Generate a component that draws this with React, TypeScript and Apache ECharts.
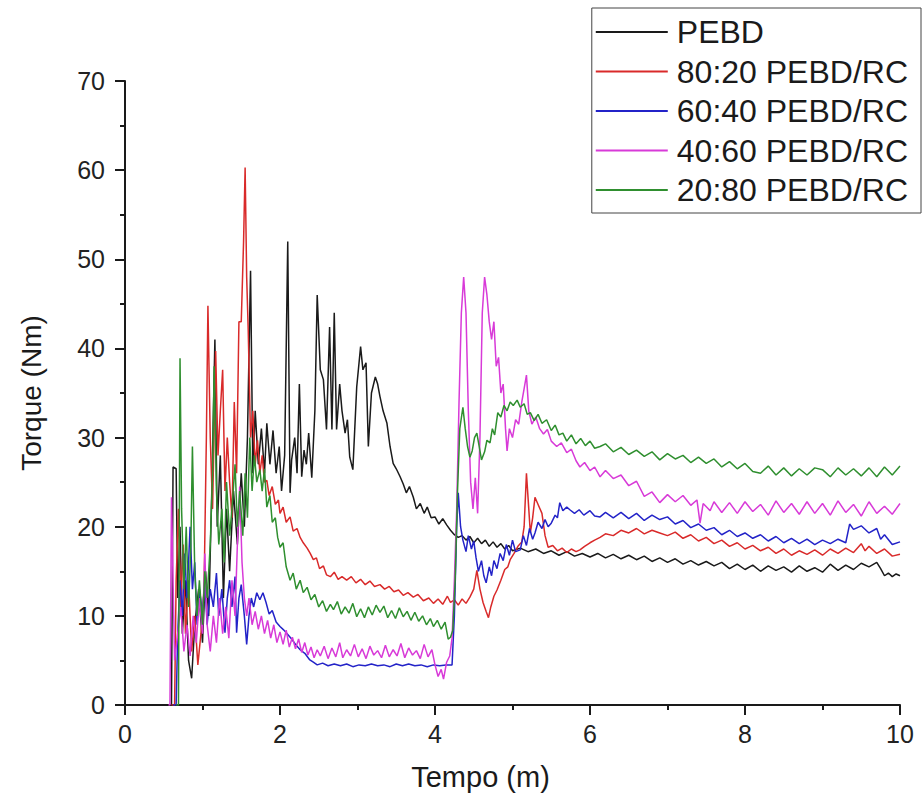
import React, { useEffect, useRef } from "react";
import * as echarts from "echarts";

const seriesNames = ["PEBD", "80:20 PEBD/RC", "60:40 PEBD/RC", "40:60 PEBD/RC", "20:80 PEBD/RC"];
const seriesColors = ["#1a1a1a", "#d92a2a", "#2323c8", "#d83ad8", "#2f8f2f"];

const xTicks = [0, 2, 4, 6, 8, 10];
const yTicks = [0, 10, 20, 30, 40, 50, 60, 70];

const pebd: number[][] = [
  [0.55,0],[0.6,0],[0.62,26.7],[0.66,26.5],[0.68,12],[0.71,20],[0.74,8],[0.78,14],[0.82,5],[0.86,3],[0.9,9],[0.95,13],[1.0,7],[1.04,15],[1.08,10],[1.12,24],[1.16,41],[1.19,20],[1.23,28],[1.27,12],[1.31,22],[1.35,15],[1.4,24],[1.45,18],[1.5,26],[1.54,20],[1.58,30],[1.62,48.7],[1.65,26],[1.68,33],[1.72,27],[1.76,31],[1.8,26],[1.83,31.6],[1.87,27],[1.91,30.8],[1.95,26],[1.99,29],[2.02,24],[2.06,28],[2.1,52],[2.13,23.8],[2.15,27.5],[2.19,30],[2.22,26],[2.25,36],[2.28,25.6],[2.31,28.6],[2.34,27],[2.37,30.5],[2.41,25.5],[2.45,33],[2.48,46],[2.52,37.6],[2.56,36.5],[2.6,30.9],[2.64,42.4],[2.67,30.9],[2.7,44],[2.73,30.9],[2.77,36],[2.8,33],[2.84,30.5],[2.87,32],[2.9,27.8],[2.94,26.4],[2.99,35.7],[3.04,40.2],[3.07,37.6],[3.11,38.4],[3.14,29],[3.18,35],[3.23,36.8],[3.26,36],[3.29,34.6],[3.33,33],[3.38,31.6],[3.42,29],[3.46,27.1],[3.5,26.5],[3.55,25.6],[3.59,24.8],[3.63,23.8],[3.67,24.5],[3.72,23.3],[3.76,22],[3.81,22.6],[3.86,21.5],[3.9,22.2],[3.95,21],[4.0,21.1],[4.05,20.3],[4.1,20.9],[4.15,20.2],[4.2,19.6],[4.25,19.1],[4.3,18.8],[4.35,19],[4.4,18.5],[4.45,18.9],[4.5,18.2],[4.55,18.7],[4.6,18.1],[4.65,18.5],[4.7,17.8],[4.75,18.3],[4.8,17.7],[4.85,18.1],[4.9,17.5],[4.95,17.9],[5.0,17.3],[5.1,17.6],[5.2,17.2],[5.3,17.5],[5.4,17.0],[5.5,17.3],[5.6,16.8],[5.7,17.2],[5.8,16.7],[5.9,17.0],[6.0,16.6],[6.1,17.0],[6.2,16.5],[6.3,16.9],[6.4,16.4],[6.5,16.8],[6.6,16.3],[6.7,16.7],[6.8,16.1],[6.9,16.5],[7.0,16.0],[7.1,16.4],[7.2,15.8],[7.3,16.2],[7.4,15.7],[7.5,16.1],[7.6,15.6],[7.7,16.0],[7.8,15.3],[7.9,15.8],[8.0,15.2],[8.1,15.7],[8.2,15.0],[8.3,15.6],[8.4,15.1],[8.5,15.5],[8.6,14.9],[8.7,15.6],[8.8,15.0],[8.9,15.4],[9.0,14.9],[9.1,15.8],[9.2,15.1],[9.3,15.7],[9.4,15.2],[9.5,15.9],[9.6,15.5],[9.7,16.0],[9.75,15.3],[9.8,14.5],[9.85,14.8],[9.9,14.4],[9.95,14.7],[10.0,14.5]
];

const pebdRc8020: number[][] = [
  [0.6,0],[0.64,0],[0.66,14],[0.69,22],[0.72,11],[0.75,18],[0.78,8],[0.82,14],[0.86,6],[0.9,10],[0.94,4.5],[0.98,8],[1.02,13],[1.05,30],[1.07,44.8],[1.1,30],[1.13,22],[1.17,39.7],[1.2,28],[1.23,33],[1.26,37.6],[1.29,24],[1.32,30],[1.35,25],[1.38,21],[1.41,34],[1.44,26],[1.47,43],[1.5,43],[1.53,52],[1.55,60.3],[1.57,48],[1.59,42],[1.62,30],[1.65,33],[1.68,27],[1.71,29.7],[1.74,26],[1.77,28],[1.8,25],[1.83,25.2],[1.86,23.5],[1.9,24.5],[1.94,22.5],[1.98,23],[2.0,21.5],[2.04,22.2],[2.08,20.5],[2.13,21.1],[2.17,19.5],[2.22,19.8],[2.26,18.8],[2.3,18.2],[2.35,17.6],[2.39,17],[2.43,16.3],[2.47,16.5],[2.51,15.3],[2.56,15.6],[2.6,14.6],[2.65,14.4],[2.7,14.9],[2.75,14.1],[2.8,14.4],[2.86,14],[2.92,14.4],[2.98,13.7],[3.04,14.1],[3.1,13.5],[3.16,13.9],[3.22,13.3],[3.29,13.5],[3.35,13],[3.41,13.3],[3.47,12.7],[3.53,12.9],[3.59,12.3],[3.65,12.6],[3.72,12.1],[3.78,12.4],[3.85,11.7],[3.92,12],[3.98,11.4],[4.04,11.9],[4.1,11.3],[4.16,12.2],[4.2,11.5],[4.25,11.8],[4.3,11.2],[4.35,11.9],[4.4,11.4],[4.45,12.1],[4.5,13],[4.54,15.1],[4.58,13],[4.62,11.5],[4.66,10.5],[4.69,9.8],[4.72,11],[4.76,12.2],[4.8,12.9],[4.85,14],[4.9,15.2],[4.94,15.5],[4.97,16.3],[5.02,17],[5.07,17.8],[5.12,18.3],[5.15,20],[5.18,26],[5.21,22],[5.23,19.3],[5.26,21],[5.29,23.3],[5.33,22.5],[5.38,21.5],[5.42,19],[5.46,17.7],[5.52,17.9],[5.58,17.3],[5.64,17.6],[5.7,17.1],[5.76,17.5],[5.82,17.2],[5.87,17.4],[5.93,17.8],[6.0,18.2],[6.06,18.5],[6.13,18.8],[6.2,19.2],[6.3,19.0],[6.4,19.6],[6.5,19.3],[6.6,19.8],[6.7,19.2],[6.8,19.6],[6.9,19.3],[7.0,19.0],[7.1,19.4],[7.2,18.7],[7.3,19.1],[7.4,18.4],[7.5,18.8],[7.6,18.1],[7.7,18.5],[7.8,17.8],[7.9,18.2],[8.0,17.5],[8.1,17.9],[8.2,17.3],[8.3,17.7],[8.4,17.0],[8.5,17.5],[8.6,16.8],[8.7,17.3],[8.8,16.9],[8.9,17.4],[9.0,16.8],[9.1,17.5],[9.2,17.0],[9.3,17.6],[9.4,17.1],[9.5,18.1],[9.55,17.3],[9.6,17.8],[9.7,17.0],[9.8,17.5],[9.9,16.7],[10.0,16.9]
];

const pebdRc6040: number[][] = [
  [0.62,0],[0.66,0],[0.68,8],[0.71,14],[0.74,10],[0.77,17],[0.8,12],[0.84,20],[0.87,13],[0.9,16],[0.93,9],[0.96,13],[1.0,10.3],[1.03,14],[1.06,9],[1.1,13],[1.14,11],[1.18,14.8],[1.21,10],[1.25,13],[1.29,8.1],[1.32,12],[1.35,14],[1.38,11],[1.42,14.4],[1.44,8.1],[1.47,12],[1.5,13.5],[1.54,10],[1.57,6.8],[1.6,10],[1.63,12],[1.66,11],[1.7,12.6],[1.74,11.8],[1.78,12.6],[1.82,11.5],[1.86,10.2],[1.9,10.6],[1.95,9.3],[2.0,8.8],[2.05,8.4],[2.1,7.9],[2.15,7.4],[2.2,6.8],[2.26,6.2],[2.32,5.8],[2.38,5.1],[2.43,4.8],[2.48,4.5],[2.55,4.7],[2.62,4.4],[2.7,4.6],[2.78,4.4],[2.86,4.6],[2.94,4.3],[3.02,4.5],[3.1,4.4],[3.18,4.6],[3.26,4.4],[3.34,4.5],[3.42,4.3],[3.5,4.6],[3.58,4.4],[3.66,4.6],[3.74,4.4],[3.82,4.5],[3.9,4.3],[3.98,4.5],[4.06,4.4],[4.14,4.5],[4.22,4.5],[4.25,10],[4.28,20],[4.3,23.8],[4.33,20],[4.36,18.5],[4.4,17.2],[4.43,19],[4.47,17.5],[4.5,18.4],[4.53,16.5],[4.56,15],[4.6,16.2],[4.63,14.5],[4.66,13.7],[4.7,15.5],[4.73,14.5],[4.76,16.2],[4.8,15.3],[4.84,17],[4.88,16.2],[4.92,18],[4.96,16.8],[5.0,18.5],[5.04,17.2],[5.1,17.4],[5.14,19],[5.18,17.9],[5.22,19.8],[5.26,18.6],[5.29,19.3],[5.33,20.5],[5.38,19.8],[5.42,20.8],[5.46,20],[5.5,20.4],[5.55,21.3],[5.58,21],[5.61,22.7],[5.65,21.8],[5.7,22.2],[5.74,21.9],[5.8,21.5],[5.86,21.9],[5.92,21.3],[6.0,21.8],[6.06,21.2],[6.13,21.1],[6.2,21.6],[6.3,21.0],[6.4,21.6],[6.5,20.9],[6.6,21.5],[6.7,20.7],[6.8,21.3],[6.9,20.8],[7.0,21.1],[7.1,20.3],[7.2,20.7],[7.3,19.9],[7.4,20.3],[7.5,19.6],[7.6,19.9],[7.7,19.1],[7.8,19.6],[7.9,18.9],[8.0,19.3],[8.1,18.7],[8.2,19.1],[8.3,18.4],[8.4,18.9],[8.5,18.2],[8.6,18.7],[8.7,18.1],[8.8,18.6],[8.9,18.0],[9.0,18.5],[9.1,18.1],[9.2,18.6],[9.3,18.2],[9.35,20.3],[9.4,19.7],[9.5,20.1],[9.6,19.3],[9.7,19.8],[9.75,18.6],[9.8,19.1],[9.9,18.0],[10.0,18.3]
];

const pebdRc4060: number[][] = [
  [0.56,0],[0.58,0],[0.6,23.3],[0.62,14],[0.64,5],[0.68,8],[0.72,11],[0.76,6],[0.8,9],[0.84,5.5],[0.88,10],[0.92,7],[0.96,12],[1.0,8],[1.03,17],[1.06,9],[1.1,6],[1.14,10],[1.18,7],[1.22,12],[1.26,8],[1.3,11],[1.34,7.5],[1.38,14],[1.42,10],[1.45,18],[1.48,24.5],[1.51,16],[1.54,12],[1.57,10],[1.6,12],[1.64,9],[1.68,10.5],[1.72,8.5],[1.76,10],[1.8,8],[1.84,9.5],[1.88,7.5],[1.92,9],[1.96,7],[2.0,8.2],[2.04,6.8],[2.08,8.4],[2.12,6.5],[2.16,7.6],[2.2,6.3],[2.24,7.4],[2.28,5.9],[2.32,7],[2.36,5.6],[2.4,6.5],[2.44,5.3],[2.48,6.2],[2.52,5.5],[2.57,6.6],[2.62,5.2],[2.67,6.4],[2.72,5.4],[2.77,7],[2.81,5.3],[2.86,6.2],[2.91,5.5],[2.96,6.8],[3.01,5.4],[3.06,6.3],[3.11,5.2],[3.16,6.6],[3.21,5.6],[3.26,6.1],[3.31,5.3],[3.36,6.7],[3.41,5.4],[3.46,6.2],[3.51,5.5],[3.56,6.9],[3.61,5.3],[3.66,6.4],[3.71,5.6],[3.76,6.1],[3.81,5.2],[3.86,6.8],[3.91,5.4],[3.96,6.2],[4.0,4.5],[4.04,3.2],[4.08,4],[4.11,2.9],[4.15,4.8],[4.19,5.5],[4.22,7.5],[4.25,14],[4.28,22],[4.31,34],[4.34,44],[4.37,48],[4.4,44],[4.43,33],[4.46,25],[4.49,22],[4.52,25.5],[4.55,21.5],[4.58,30],[4.61,44],[4.64,48],[4.67,46],[4.7,43],[4.73,41],[4.76,43],[4.79,38],[4.82,39],[4.85,35],[4.88,36],[4.91,31],[4.93,28.5],[4.96,31],[5.0,30],[5.04,32],[5.08,31.5],[5.12,34],[5.15,35.5],[5.18,37],[5.21,33],[5.25,31.5],[5.3,32.3],[5.35,31],[5.4,30.4],[5.45,30.9],[5.5,29.6],[5.57,29],[5.63,29.4],[5.7,28.3],[5.76,28.7],[5.82,27.4],[5.87,26.7],[5.93,27.2],[6.0,26.3],[6.06,26.7],[6.13,25.6],[6.2,26.3],[6.3,25.4],[6.4,25.8],[6.5,24.6],[6.6,25.1],[6.7,23.4],[6.8,23.9],[6.9,22.7],[7.0,23.6],[7.1,22.8],[7.2,23.5],[7.3,22.4],[7.38,23],[7.42,20.4],[7.46,22.6],[7.55,21.8],[7.6,22.8],[7.7,21.6],[7.8,22.7],[7.9,21.5],[8.0,22.8],[8.1,21.7],[8.2,22.5],[8.3,21.3],[8.4,22.9],[8.5,21.6],[8.6,22.6],[8.7,21.4],[8.8,22.8],[8.9,21.5],[9.0,22.6],[9.1,21.3],[9.2,22.9],[9.3,21.6],[9.4,22.5],[9.5,21.2],[9.6,22.8],[9.7,21.5],[9.8,22.3],[9.9,21.4],[10.0,22.6]
];

const pebdRc2080: number[][] = [
  [0.66,0],[0.69,0],[0.71,38.9],[0.73,22],[0.76,13],[0.79,20],[0.82,11],[0.85,18],[0.87,29],[0.9,15],[0.93,10],[0.96,14],[1.0,9],[1.03,15],[1.06,12],[1.1,18],[1.13,26],[1.15,38],[1.18,24],[1.21,18],[1.25,22],[1.28,16],[1.31,25],[1.35,19],[1.38,22],[1.42,27],[1.45,20],[1.48,24],[1.52,19],[1.55,26],[1.58,21],[1.61,30],[1.64,24],[1.67,28],[1.7,25],[1.74,26.4],[1.77,24],[1.8,26.5],[1.83,22.2],[1.87,23.5],[1.9,20.5],[1.94,21],[1.97,18.8],[2.0,17.7],[2.04,18.2],[2.08,15.5],[2.13,14],[2.17,14.8],[2.21,13],[2.26,14],[2.3,12.6],[2.35,13.2],[2.4,11.8],[2.45,12.4],[2.5,11],[2.55,11.7],[2.6,10.5],[2.65,11.3],[2.69,10.7],[2.74,11.6],[2.79,10.2],[2.84,11],[2.89,10.3],[2.94,11.4],[2.99,9.9],[3.04,10.8],[3.09,9.8],[3.14,11],[3.19,10.1],[3.24,11.2],[3.29,10.4],[3.34,11.1],[3.39,9.8],[3.44,10.6],[3.49,9.7],[3.54,10.9],[3.59,9.9],[3.64,10.5],[3.69,9.5],[3.74,10.4],[3.79,9.4],[3.84,10],[3.89,9],[3.94,9.7],[3.98,8.8],[4.03,9.5],[4.08,8.5],[4.13,9.3],[4.17,7.4],[4.2,7.6],[4.23,8.4],[4.26,14],[4.29,23.8],[4.32,31],[4.36,33.4],[4.39,31],[4.42,29],[4.45,27.8],[4.48,28.5],[4.51,30],[4.54,30.5],[4.57,29],[4.6,27.5],[4.64,28.4],[4.67,29.7],[4.71,29.4],[4.74,31],[4.77,30.3],[4.81,32.8],[4.85,32.3],[4.89,33.6],[4.93,33],[4.97,34],[5.01,33.6],[5.06,34.2],[5.1,33.4],[5.15,33.8],[5.19,32.6],[5.23,32.8],[5.28,31.9],[5.33,32.6],[5.38,31.6],[5.44,32],[5.5,30.8],[5.55,31.4],[5.6,30.3],[5.65,30.5],[5.7,29.6],[5.76,30.3],[5.82,29.3],[5.88,29.9],[5.94,29.1],[6.0,29.6],[6.06,28.8],[6.13,29],[6.2,29.3],[6.3,28.4],[6.4,28.9],[6.5,28.1],[6.6,28.6],[6.7,27.9],[6.8,28.4],[6.9,27.5],[7.0,28.2],[7.1,27.6],[7.2,28],[7.3,27.2],[7.4,27.8],[7.5,27.1],[7.6,27.6],[7.7,26.7],[7.8,27.3],[7.9,26.5],[8.0,27.1],[8.1,26.2],[8.2,26],[8.3,26.8],[8.4,25.8],[8.5,26.6],[8.6,25.7],[8.7,26.5],[8.8,25.8],[8.9,26.6],[9.0,26.4],[9.1,25.6],[9.2,26.6],[9.3,25.8],[9.4,26.5],[9.5,25.7],[9.6,26.6],[9.7,25.6],[9.8,26.7],[9.9,25.8],[10.0,26.8]
];

const allData = [pebd, pebdRc8020, pebdRc6040, pebdRc4060, pebdRc2080];

const FONT = "'Liberation Sans', Arial, sans-serif";

export default function App() {
  const ref = useRef<HTMLDivElement>(null);
  useEffect(() => {
    if (!ref.current) return;
    const chart = echarts.init(ref.current, undefined, { renderer: "svg" });
    const axisLine = { show: true, onZero: false, lineStyle: { color: "#1a1a1a", width: 2 } };
    chart.setOption({
      animation: false,
      backgroundColor: "#ffffff",
      textStyle: { fontFamily: FONT },
      grid: { left: 125, right: 22, top: 81, bottom: 105, containLabel: false },
      legend: {
        data: seriesNames,
        orient: "vertical",
        right: 1,
        top: 8,
        icon: "rect",
        itemWidth: 72,
        itemHeight: 2,
        itemGap: 7.5,
        padding: [8, 13, 7, 4],
        borderColor: "#444",
        borderWidth: 1,
        backgroundColor: "#ffffff",
        textStyle: { fontSize: 32, color: "#1a1a1a", fontFamily: FONT, padding: [0, 0, 0, 4] },
      },
      xAxis: {
        type: "value",
        min: xTicks[0],
        max: xTicks[xTicks.length - 1],
        interval: 2,
        name: "Tempo (m)",
        nameLocation: "middle",
        nameGap: 57,
        nameTextStyle: { fontSize: 29, color: "#1a1a1a", fontFamily: FONT, padding: [0, 64, 0, 0] },
        axisLine,
        axisTick: { show: true, inside: false, length: 10, lineStyle: { color: "#1a1a1a", width: 2 } },
        minorTick: { show: true, splitNumber: 2, length: 5, lineStyle: { color: "#1a1a1a", width: 2 } },
        splitLine: { show: false },
        minorSplitLine: { show: false },
        axisLabel: { fontSize: 25, color: "#222", margin: 16, fontFamily: FONT },
      },
      yAxis: {
        type: "value",
        min: yTicks[0],
        max: yTicks[yTicks.length - 1],
        interval: 10,
        name: "Torque (Nm)",
        nameLocation: "middle",
        nameGap: 80,
        nameTextStyle: { fontSize: 28, color: "#1a1a1a", fontFamily: FONT },
        axisLine,
        axisTick: { show: true, inside: false, length: 10, lineStyle: { color: "#1a1a1a", width: 2 } },
        minorTick: { show: true, splitNumber: 2, length: 5, lineStyle: { color: "#1a1a1a", width: 2 } },
        splitLine: { show: false },
        minorSplitLine: { show: false },
        axisLabel: { fontSize: 25, color: "#222", margin: 20, fontFamily: FONT },
      },
      series: allData.map((d, i) => ({
        name: seriesNames[i],
        type: "line",
        data: d,
        showSymbol: false,
        symbol: "none",
        color: seriesColors[i],
        lineStyle: { color: seriesColors[i], width: 1.5 },
        z: 2 + i,
      })),
    });
    return () => chart.dispose();
  }, []);
  return (
    <div
      ref={ref}
      style={{ position: "fixed", left: 0, top: 0, width: 922, height: 810, background: "#fff" }}
    />
  );
}
